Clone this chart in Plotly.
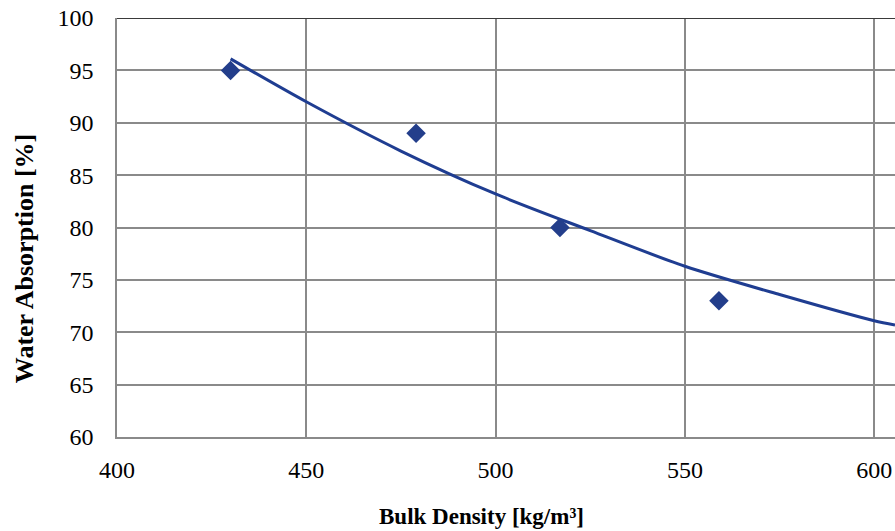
import plotly.graph_objects as go

# Measured data points
density = [430, 479, 517, 559]
absorption = [95, 89, 80, 73]

# Trend line
trend_x = [430, 450, 475, 500, 525, 550, 575, 600, 605.5]
trend_y = [96.1, 92.0, 87.3, 83.2, 79.7, 76.3, 73.6, 71.1, 70.7]

x_ticks = [400, 450, 500, 550, 600]
y_ticks = [60, 65, 70, 75, 80, 85, 90, 95, 100]

FONT = "Liberation Serif, Times New Roman, serif"
GRID = "#8a8a8a"

fig = go.Figure()
fig.add_trace(go.Scatter(
    x=trend_x, y=trend_y, mode="lines",
    line=dict(color="#1F3D91", width=3, shape="spline", smoothing=0.8),
    showlegend=False, hoverinfo="skip"))
fig.add_trace(go.Scatter(
    x=density, y=absorption, mode="markers",
    marker=dict(symbol="diamond", size=15, color="#233E8B"),
    showlegend=False))

fig.update_layout(
    width=895, height=531,
    margin=dict(l=117, r=0, t=18, b=94),
    paper_bgcolor="white", plot_bgcolor="white",
    font=dict(family=FONT, size=24, color="black"),
    xaxis=dict(range=[400, 605.5], tickvals=x_ticks, showgrid=True,
               gridcolor=GRID, gridwidth=1.5, showline=True, linecolor=GRID,
               linewidth=1.5, zeroline=False, ticks="", ticklabelstandoff=10,
               tickfont=dict(family=FONT, size=24, color="black")),
    yaxis=dict(range=[60, 100], tickvals=y_ticks, showgrid=True,
               gridcolor=GRID, gridwidth=1.5, showline=True, linecolor=GRID,
               linewidth=1.5, zeroline=False, ticks="", ticklabelstandoff=17,
               tickfont=dict(family=FONT, size=24, color="black")),
    shapes=[
        dict(type="line", xref="paper", yref="y", x0=0, x1=1, y0=100, y1=100,
             line=dict(color="#3a3a3a", width=2), layer="above"),
    ],
    annotations=[
        dict(text="<b>Water Absorption [%]</b>", xref="paper", yref="paper",
             x=-0.1195, y=0.4245, xanchor="center", yanchor="middle",
             textangle=-90, showarrow=False,
             font=dict(family=FONT, size=26, color="black")),
        dict(text="<b>Bulk Density [kg/m³]</b>",
             xref="paper", yref="paper", x=0.469, y=-0.2243,
             xanchor="center", yanchor="bottom", showarrow=False,
             font=dict(family=FONT, size=23, color="black")),
    ],
)

fig.write_html("out.html")
